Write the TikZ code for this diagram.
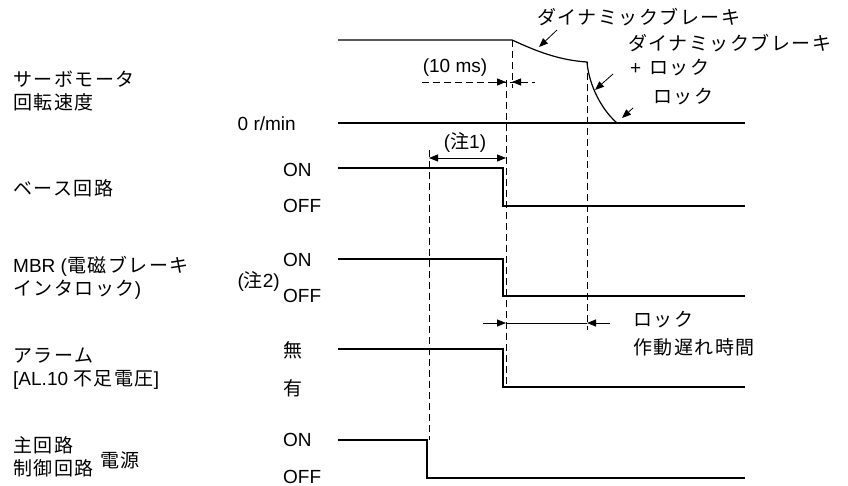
\documentclass[tikz,border=0pt]{standalone}
\usepackage{fontspec}
\setmainfont{Liberation Sans}
\newfontfamily\jp[LetterSpace=8]{Noto Sans CJK JP}
\usetikzlibrary{arrows.meta}

\begin{document}
\begin{tikzpicture}[x=1pt, y=-1pt,
  sig/.style={line width=1.2pt},
  guide/.style={line width=0.9pt, dash pattern=on 7pt off 4pt},
  dim/.style={line width=0.8pt, -{Triangle[length=9pt, width=7pt]}},
  lab/.style={inner sep=0pt, font=\fontsize{19}{23}\selectfont, align=left},
  jlab/.style={lab, font=\jp\fontsize{19}{23}\selectfont}
]
\useasboundingbox (0,0) rectangle (848,486);
% signal names
\node[jlab, anchor=west] (speed) at (13,91) {サーボモータ\\回転速度};
\node[jlab, anchor=west] (base) at (13,188) {ベース回路};
\node[lab, anchor=west] (mbr) at (13,278) {MBR ({\jp 電磁ブレーキ}\\{\jp インタロック})};
\node[lab, anchor=west] (alarm) at (13,369) {{\jp アラーム}\\{[}AL.10 {\jp 不足電圧}{]}};
\node[jlab, anchor=west] (power) at (13,457) {主回路\\制御回路};
\node[jlab, anchor=west] (powerb) at (100,460) {電源};
% levels
\node[lab, anchor=east] (zero) at (296,124) {0 r/min};
\node[lab, anchor=west] (baseon) at (283,170) {ON};
\node[lab, anchor=west] (baseoff) at (283,206) {OFF};
\node[lab, anchor=west] (mbron) at (283,260) {ON};
\node[lab, anchor=west] (mbroff) at (283,296) {OFF};
\node[lab, anchor=east] (note2) at (280,281) {({\jp 注}2)};
\node[jlab, anchor=west] (almno) at (283,350) {無};
\node[jlab, anchor=west] (almyes) at (283,388) {有};
\node[lab, anchor=west] (poweron) at (283,440) {ON};
\node[lab, anchor=west] (poweroff) at (283,477) {OFF};
% waveforms
\draw[sig] (338,40) -- (512,40) .. controls (530,48) and (555,60) .. (587,62)
  .. controls (589,86) and (602,110) .. (617,123);
\draw[sig] (338,123) -- (745,123);
\draw[sig] (338,168) -- (503,168) -- (503,206) -- (745,206);
\draw[sig] (338,259) -- (503,259) -- (503,296) -- (745,296);
\draw[sig] (338,349) -- (503,349) -- (503,387) -- (745,387);
\draw[sig] (338,440) -- (427,440) -- (427,478) -- (745,478);
% guides
\draw[guide] (512,40) -- (512,88);
\draw[guide] (506,80) -- (506,387);
\draw[guide] (587,62) -- (587,330);
\draw[guide] (429,150) -- (429,440);
% 10 ms
\coordinate (msl) at (494,82);
\coordinate (msa) at (506,82);
\coordinate (msb) at (512,82);
\coordinate (msr) at (524,82);
\draw[guide] (422,82) -- (535,82);
\draw[dim] (msl) -- (msa);
\draw[dim] (msr) -- (msb);
\node[lab] (ms) at (455,68) {(10 ms)};
% note 1
\coordinate (n1a) at (429,158);
\coordinate (n1b) at (506,158);
\draw[dim, {Triangle[length=9pt, width=7pt]}-{Triangle[length=9pt, width=7pt]}] (n1a) -- (n1b);
\node[lab] (note1) at (465,142) {({\jp 注}1)};
% lock delay
\coordinate (lkl) at (483,323);
\coordinate (lka) at (506,323);
\coordinate (lkb) at (587,323);
\coordinate (lkr) at (610,323);
\draw[line width=0.8pt] (lka) -- (lkb);
\draw[dim] (lkl) -- (lka);
\draw[dim] (lkr) -- (lkb);
\node[jlab, anchor=west, font=\jp\fontsize{19}{28}\selectfont] (lock) at (633,334) {ロック\\作動遅れ時間};
% brake labels
\node[jlab, anchor=west] (db) at (537,17) {ダイナミックブレーキ};
\node[jlab, anchor=west] (dbl) at (628,43) {ダイナミックブレーキ};
\node[lab, anchor=west] (plus) at (630,68) {+\hspace{8pt}{\jp ロック}};
\node[jlab, anchor=west] (lk) at (653,97) {ロック};
\coordinate (dbtip) at (539,47);
\coordinate (dbltip) at (595,90);
\coordinate (lktip) at (622,118);
\draw[dim] (557,30) -- (dbtip);
\draw[dim] (613,74) -- (dbltip);
\draw[dim] (633,108) -- (lktip);
\end{tikzpicture}
\end{document}
